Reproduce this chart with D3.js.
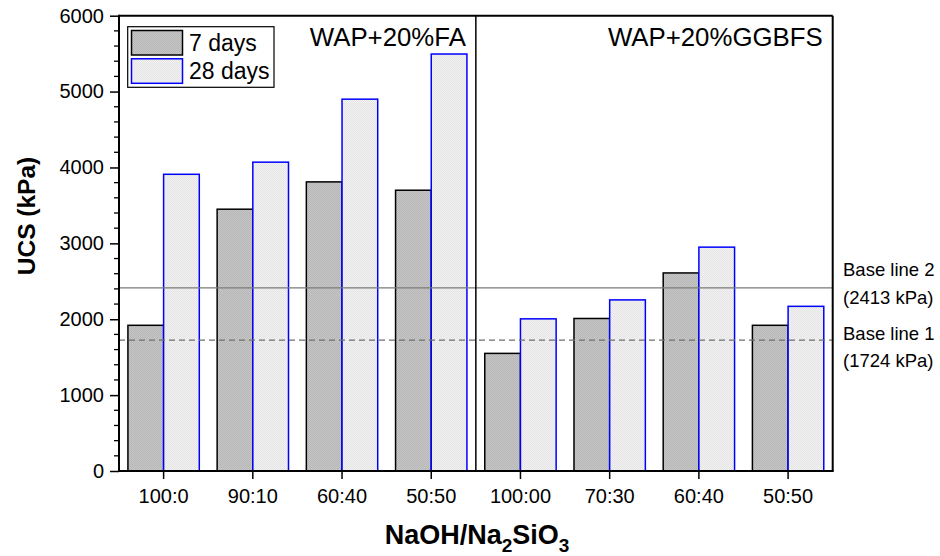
<!DOCTYPE html>
<html>
<head>
<meta charset="utf-8">
<script src="https://cdn.jsdelivr.net/npm/d3@7"></script>
<style>
  html, body { margin: 0; padding: 0; background: #fff; }
  svg { display: block; font-family: Arial, "Liberation Sans", Helvetica, sans-serif; }
</style>
</head>
<body>
<svg id="chart" width="940" height="556"></svg>
<script>
// ---- data ----
const categories = ["100:0", "90:10", "60:40", "50:50", "100:00", "70:30", "60:40", "50:50"];
const days7 = [1920, 3450, 3810, 3700, 1550, 2010, 2610, 1920];
const days28 = [3910, 4070, 4900, 5495, 2005, 2255, 2950, 2170];
const seriesNames = ["7 days", "28 days"];
const groupLabels = ["WAP+20%FA", "WAP+20%GGBFS"];
const baseLines = [2413, 1724];
const baseLineNames = ["Base line 2", "Base line 1"];
const yTicks = [0, 1000, 2000, 3000, 4000, 5000, 6000];

(function () {
// ---- layout ----
const svg = d3.select("#chart");
const pL = 119, pR = 832.7, pT = 15.7, pB = 471;

const x = d3.scaleBand().domain(d3.range(categories.length)).range([pL, pR]).padding(0);
const y = d3.scaleLinear().domain([0, 6000]).range([pB, pT]);
const bw = x.bandwidth() * 0.4;

const defs = svg.append("defs");
function pat(id, bg, dot) {
  const p = defs.append("pattern").attr("id", id).attr("patternUnits", "userSpaceOnUse")
    .attr("width", 2).attr("height", 2);
  p.append("rect").attr("width", 2).attr("height", 2).attr("fill", bg);
  p.append("rect").attr("width", 1).attr("height", 1).attr("fill", dot);
  p.append("rect").attr("x", 1).attr("y", 1).attr("width", 1).attr("height", 1).attr("fill", dot);
}
pat("pGray", "#c6c6c6", "#b6b6b6");
pat("pLight", "#f2f2f2", "#e4e4e4");

// bars
const g = svg.append("g");
g.selectAll("rect.d7").data(days7).join("rect")
  .attr("class", "d7")
  .attr("x", (d, i) => x(i) + x.bandwidth() / 2 - bw)
  .attr("y", d => y(d))
  .attr("width", bw)
  .attr("height", d => y(0) - y(d))
  .attr("fill", "url(#pGray)")
  .attr("stroke", "#000").attr("stroke-width", 1.5);

g.selectAll("rect.d28").data(days28).join("rect")
  .attr("class", "d28")
  .attr("x", (d, i) => x(i) + x.bandwidth() / 2)
  .attr("y", d => y(d))
  .attr("width", bw)
  .attr("height", d => y(0) - y(d))
  .attr("fill", "url(#pLight)")
  .attr("stroke", "#0000ff").attr("stroke-width", 1.5);

// base lines
svg.append("line").attr("x1", pL).attr("x2", pR)
  .attr("y1", y(baseLines[0])).attr("y2", y(baseLines[0]))
  .attr("stroke", "#7a7a7a").attr("stroke-width", 1.2);
svg.append("line").attr("x1", pL).attr("x2", pR)
  .attr("y1", y(baseLines[1])).attr("y2", y(baseLines[1]))
  .attr("stroke", "#6e6e6e").attr("stroke-width", 1.2).attr("stroke-dasharray", "6,4");

// base line labels
const labOff = [[-12, 16], [0, 27]];
baseLines.forEach((v, i) => {
  const t = svg.append("text").attr("x", 843).attr("font-size", 18.5).attr("fill", "#000");
  t.append("tspan").attr("x", 843).attr("y", y(v) + labOff[i][0]).text(baseLineNames[i]);
  t.append("tspan").attr("x", 843).attr("y", y(v) + labOff[i][1]).text("(" + v + " kPa)");
});

// divider
svg.append("line").attr("x1", x(4)).attr("x2", x(4)).attr("y1", pT).attr("y2", pB)
  .attr("stroke", "#000").attr("stroke-width", 1.5);

// frame top/right
svg.append("line").attr("x1", pL).attr("x2", pR).attr("y1", pT).attr("y2", pT)
  .attr("stroke", "#000").attr("stroke-width", 2);
svg.append("line").attr("x1", pR).attr("x2", pR).attr("y1", pT).attr("y2", pB)
  .attr("stroke", "#000").attr("stroke-width", 2);

// y axis
const yAxis = d3.axisLeft(y).tickValues(yTicks).tickSize(9).tickPadding(6).tickFormat(d3.format("d"));
const ya = svg.append("g").attr("transform", `translate(${pL},0)`).call(yAxis);
ya.select(".domain").attr("stroke-width", 2).attr("d", `M0,${pB + 1}V${pT - 1}`);
ya.selectAll(".tick line").attr("stroke-width", 1.5);
ya.selectAll(".tick text").attr("font-size", 20).attr("font-family", "Arial, 'Liberation Sans', sans-serif").attr("fill", "#000");
// minor ticks
const minor = d3.range(0, 6001, 200).filter(v => v % 1000 !== 0);
svg.append("g").selectAll("line").data(minor).join("line")
  .attr("x1", pL - 5).attr("x2", pL).attr("y1", d => y(d)).attr("y2", d => y(d))
  .attr("stroke", "#000").attr("stroke-width", 1.3);

// x axis
const xAxis = d3.axisBottom(x).tickSize(8).tickPadding(10).tickFormat(i => categories[i]);
const xa = svg.append("g").attr("transform", `translate(0,${pB})`).call(xAxis);
xa.select(".domain").attr("stroke-width", 2).attr("d", `M${pL - 1},0H${pR + 1}`);
xa.selectAll(".tick line").attr("stroke-width", 1.5);
xa.selectAll(".tick text").attr("font-size", 20).attr("font-family", "Arial, 'Liberation Sans', sans-serif").attr("fill", "#000");

// axis titles
svg.append("text").attr("transform", "translate(35,216) rotate(-90)")
  .attr("text-anchor", "middle").attr("font-size", 24.5).attr("font-weight", "bold").text("UCS (kPa)");
const xt = svg.append("text").attr("x", 477).attr("y", 544).attr("text-anchor", "middle")
  .attr("font-size", 27).attr("font-weight", "bold");
xt.append("tspan").text("NaOH/Na");
xt.append("tspan").attr("font-size", 19).attr("dy", 8).text("2");
xt.append("tspan").attr("dy", -8).text("SiO");
xt.append("tspan").attr("font-size", 19).attr("dy", 8).text("3");

// group labels
svg.append("text").attr("x", x(4) - 10).attr("y", 46).attr("text-anchor", "end")
  .attr("font-size", 25.8).text(groupLabels[0]);
svg.append("text").attr("x", pR - 10).attr("y", 46).attr("text-anchor", "end")
  .attr("font-size", 25.8).text(groupLabels[1]);

// legend
const lg = svg.append("g");
lg.append("rect").attr("x", 127.7).attr("y", 26.7).attr("width", 146.3).attr("height", 60.6)
  .attr("fill", "#fff").attr("stroke", "#000").attr("stroke-width", 1.2);
const sw = [{ f: "url(#pGray)", s: "#000" }, { f: "url(#pLight)", s: "#0000ff" }];
seriesNames.forEach((name, i) => {
  const yy = 30.5 + i * 28.3;
  lg.append("rect").attr("x", 131.5).attr("y", yy).attr("width", 51).attr("height", 24.5)
    .attr("fill", sw[i].f).attr("stroke", sw[i].s).attr("stroke-width", 1.5);
  lg.append("text").attr("x", 189).attr("y", yy + 20.5).attr("font-size", 23).text(name);
});
})();
</script>
</body>
</html>
